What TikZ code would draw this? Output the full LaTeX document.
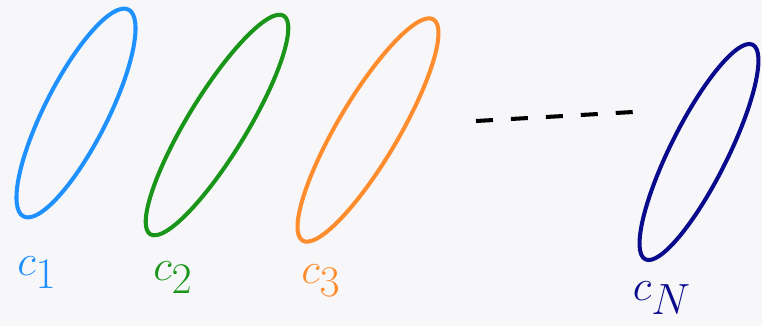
\documentclass[tikz,border=0pt]{standalone}
\usepackage{amsmath,amssymb}
\usepackage{xcolor}
\usetikzlibrary{shapes.geometric}
\definecolor{cblue}{RGB}{30,145,255}
\definecolor{cgreen}{RGB}{25,150,25}
\definecolor{corange}{RGB}{255,140,45}
\definecolor{cnavy}{RGB}{10,10,140}
\definecolor{paper}{RGB}{247,247,250}
\begin{document}
\begin{tikzpicture}[x=0.02cm, y=-0.02cm,
  loop/.style={ellipse, draw, line width=2.3pt, inner sep=0pt, outer sep=0pt},
  lbl/.style={font=\fontsize{40}{40}\selectfont}]
  \fill[paper] (0,0) rectangle (762,326);
  \useasboundingbox (0,0) rectangle (762,326);
  \node[loop, cblue,   minimum width=4.64cm, minimum height=1.26cm, rotate=63.1] (e1) at (76,113)  {};
  \node[loop, cgreen,  minimum width=5.12cm, minimum height=1.18cm, rotate=58.6] (e2) at (217,125) {};
  \node[loop, corange, minimum width=5.14cm, minimum height=1.22cm, rotate=59.4] (e3) at (368,130) {};
  \node[loop, cnavy,   minimum width=4.80cm, minimum height=1.14cm, rotate=63.4] (eN) at (699,152) {};
  \node[lbl, cblue]   (l1) at (37,273)  {$c_1$};
  \node[lbl, cgreen]  (l2) at (173,278) {$c_2$};
  \node[lbl, corange] (l3) at (321,281) {$c_3$};
  \node[lbl, cnavy]   (lN) at (662,298) {$c_N$};
  \coordinate (d1) at (476,121);
  \coordinate (d2) at (633,112);
  \draw[line width=2.3pt, dash pattern=on 0.34cm off 0.36cm] (d1) -- (d2);
\end{tikzpicture}
\end{document}
